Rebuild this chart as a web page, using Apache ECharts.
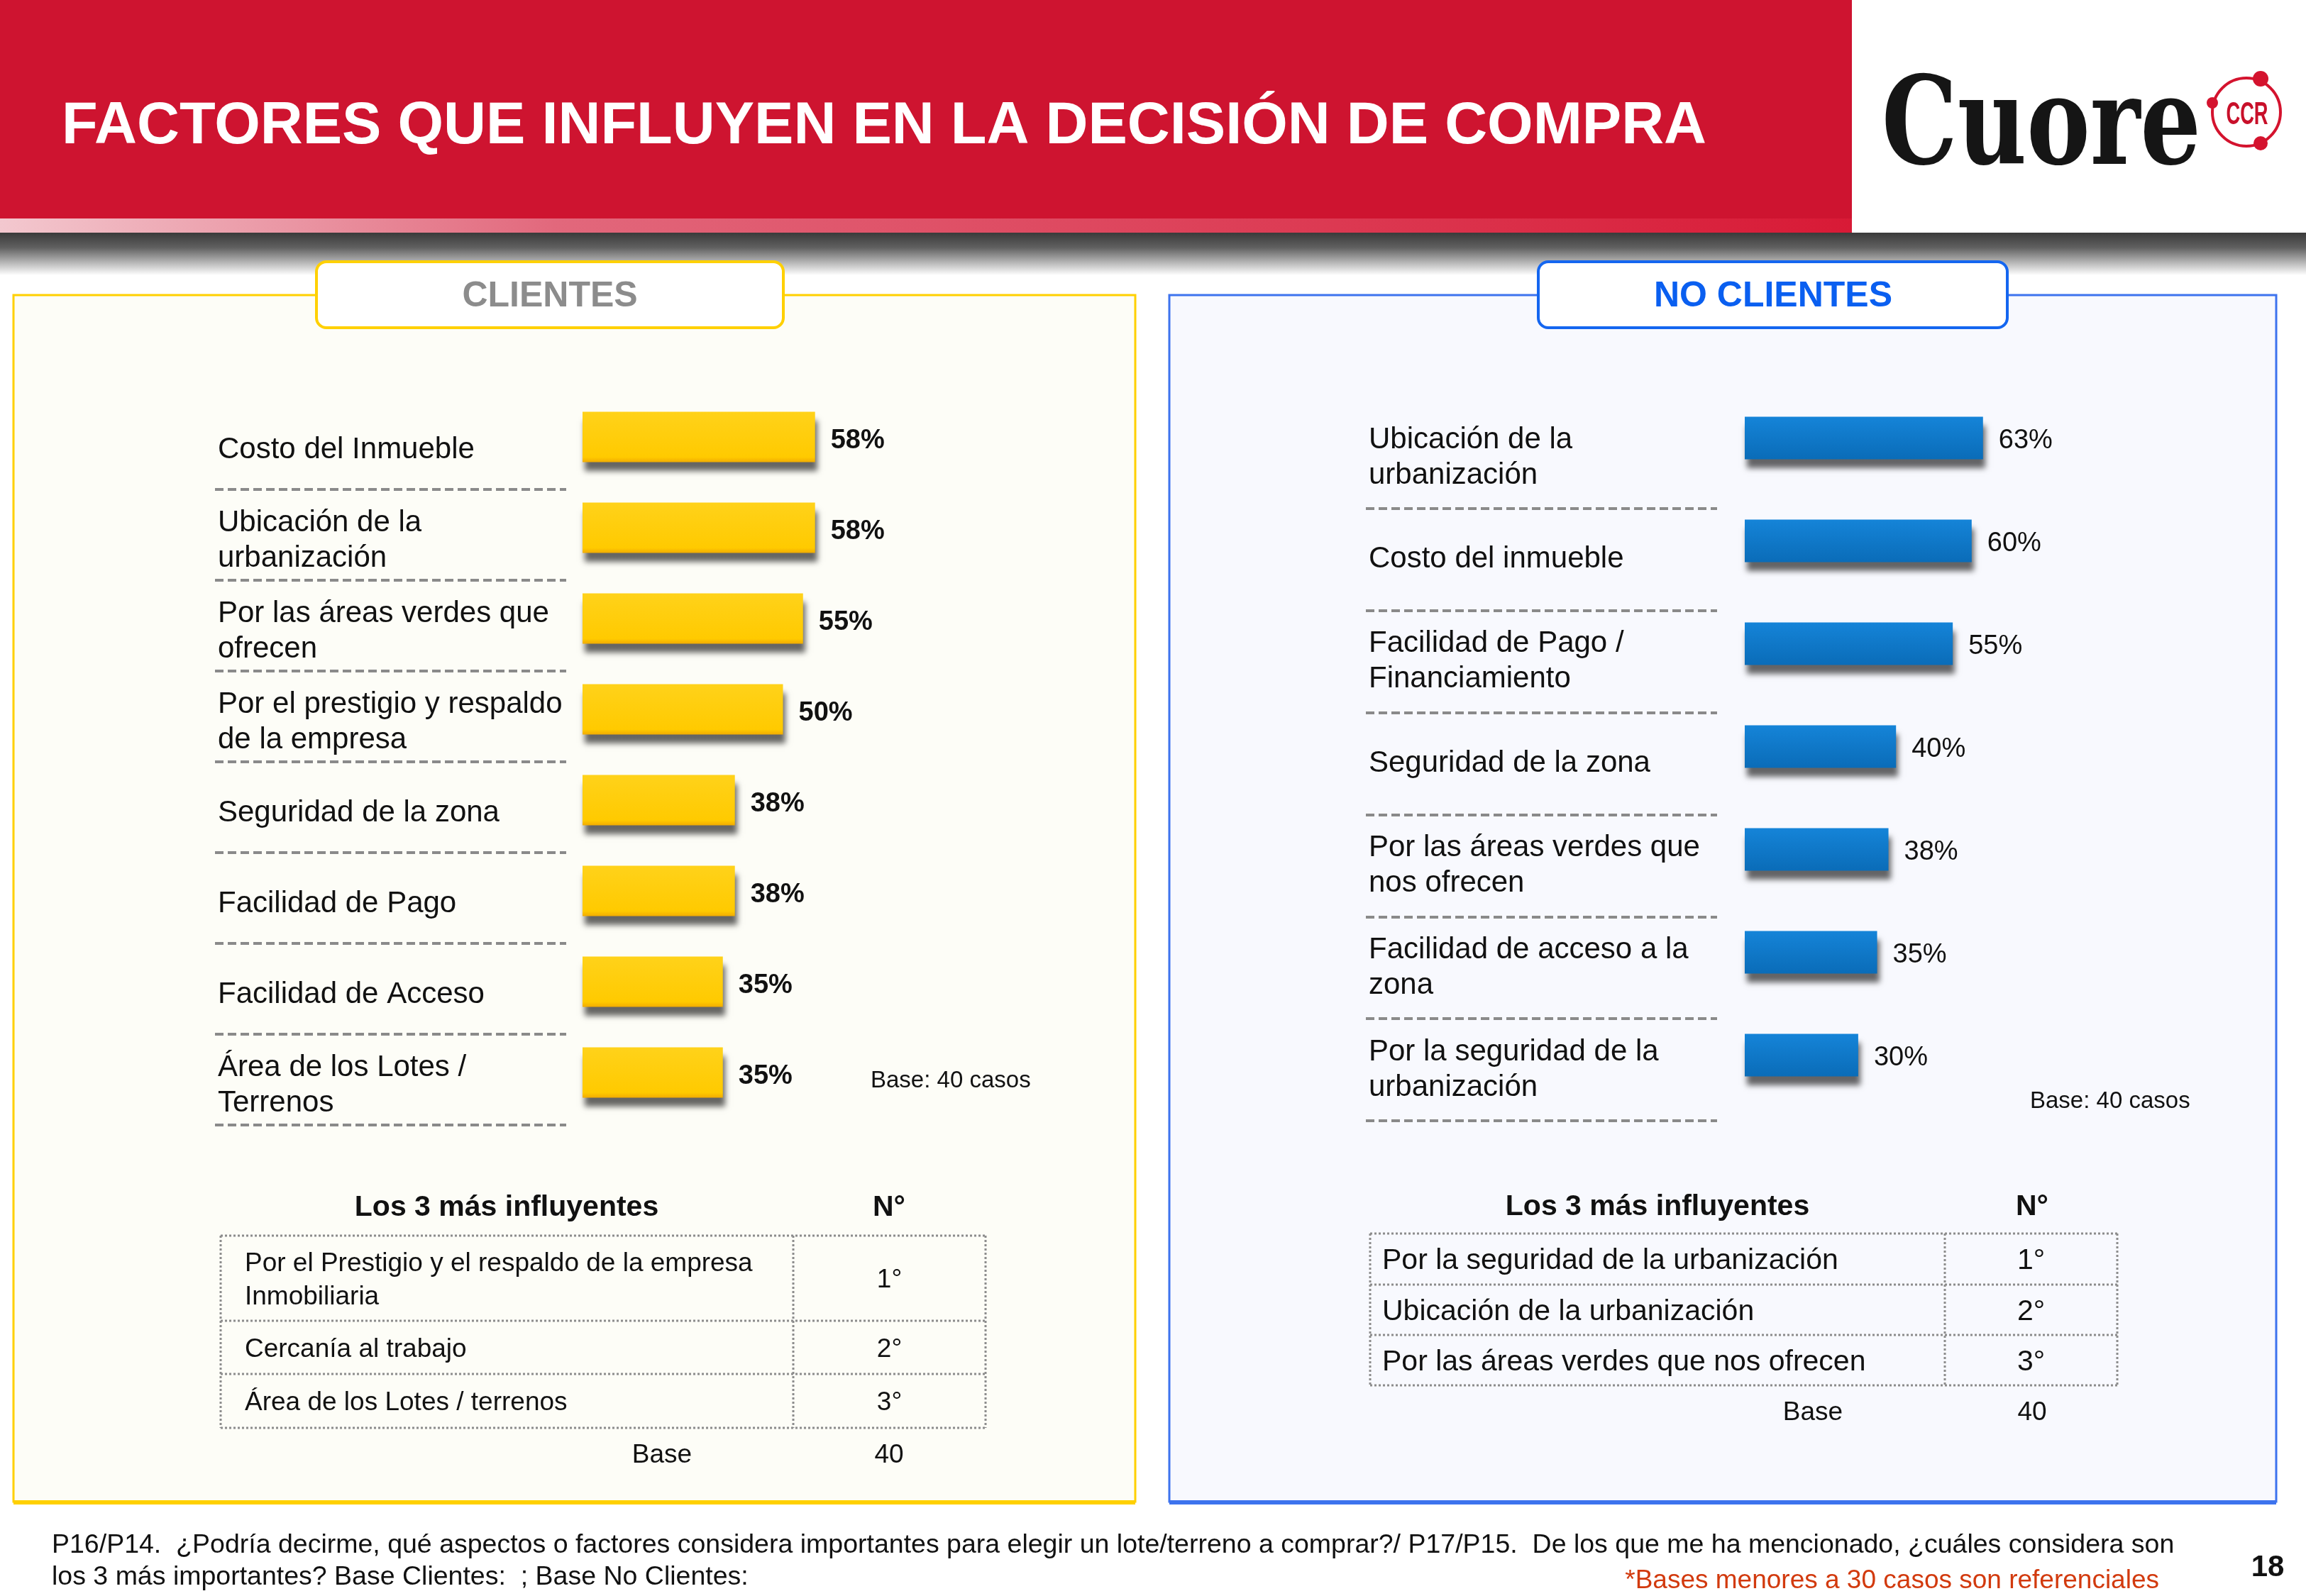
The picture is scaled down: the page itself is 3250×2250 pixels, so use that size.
<!DOCTYPE html>
<html>
<head>
<meta charset="utf-8">
<script src="https://cdn.jsdelivr.net/npm/echarts@6/dist/echarts.min.js"></script>
<style>
  html, body { margin: 0; padding: 0; background: #ffffff; }
  #chart { width: 3250px; height: 2250px; }
</style>
</head>
<body>
<div id="chart"></div>
<script>
// datos - clientes
const clientesCats = [
	'Costo del Inmueble',
	'Ubicación de la\nurbanización',
	'Por las áreas verdes que\nofrecen',
	'Por el prestigio y respaldo\nde la empresa',
	'Seguridad de la zona',
	'Facilidad de Pago',
	'Facilidad de Acceso',
	'Área de los Lotes /\nTerrenos',
];
const clientesVals = [58, 58, 55, 50, 38, 38, 35, 35];

// datos - no clientes
const noClientesCats = [
	'Ubicación de la\nurbanización',
	'Costo del inmueble',
	'Facilidad de Pago /\nFinanciamiento',
	'Seguridad de la zona',
	'Por las áreas verdes que\nnos ofrecen',
	'Facilidad de acceso a la\nzona',
	'Por la seguridad de la\nurbanización',
];
const noClientesVals = [63, 60, 55, 40, 38, 35, 30];

// top 3
const top3Clientes = ['Por el Prestigio y el respaldo de la empresa\nInmobiliaria', 'Cercanía al trabajo', 'Área de los Lotes / terrenos'];
const top3NoClientes = ['Por la seguridad de la urbanización', 'Ubicación de la urbanización', 'Por las áreas verdes que nos ofrecen'];
const ranks = ['1°', '2°', '3°'];
const baseClientes = 40;
const baseNoClientes = 40;

const FONT = '"Liberation Sans", Arial, Helvetica, sans-serif';

let myChart = echarts.init(document.getElementById('chart'), null, { renderer: 'canvas' });

const txt = (x, y, text, size, opts = {}) => ({
	type: 'text',
	x: x,
	y: y,
	z: opts.z || 20,
	style: {
		text: text,
		fontSize: size,
		fontFamily: opts.family || FONT,
		fontWeight: opts.weight || 'normal',
		fill: opts.color || '#111',
		align: opts.align || 'left',
		verticalAlign: opts.valign || 'middle',
		lineHeight: opts.lineHeight,
		textShadowColor: opts.shadowColor,
		textShadowOffsetX: opts.shadowX,
		textShadowOffsetY: opts.shadowY,
	},
	scaleX: opts.scaleX || 1,
});

const dotted = (x1, y1, x2, y2) => ({
	type: 'line',
	z: 15,
	shape: { x1: x1, y1: y1, x2: x2, y2: y2 },
	style: { stroke: '#8c8c8c', lineWidth: 3, lineDash: [3, 3] },
});

// tabla de top 3
const tabla = (items, box, textX, size, titleSize, title) => {
	let els = [];
	const [left, mid, right] = box.x;
	const ys = box.y;
	els.push(txt(title.x, title.y, 'Los 3 más influyentes', titleSize, { weight: 'bold', align: 'center' }));
	els.push(txt(title.nx, title.y, 'N°', titleSize, { weight: 'bold', align: 'center' }));
	for (let i = 0; i < ys.length; i++) {
		els.push(dotted(left, ys[i], right, ys[i]));
	}
	els.push(dotted(left, ys[0], left, ys[ys.length - 1]));
	els.push(dotted(mid, ys[0], mid, ys[ys.length - 1]));
	els.push(dotted(right, ys[0], right, ys[ys.length - 1]));
	items.forEach((t, i) => {
		const cy = (ys[i] + ys[i + 1]) / 2;
		els.push(txt(textX, cy + 3, t, size, { lineHeight: size * 1.28 }));
		els.push(txt((mid + right) / 2, cy + 3, ranks[i], size, { align: 'center' }));
	});
	return els;
};

let graphics = [
	// cabecera
	{ type: 'rect', z: 1, shape: { x: 0, y: 0, width: 2610, height: 312 }, style: { fill: '#CE1430' } },
	{
		type: 'rect', z: 1, shape: { x: 0, y: 308, width: 2610, height: 22 },
		style: {
			fill: new echarts.graphic.LinearGradient(0, 0, 1, 0, [
				{ offset: 0, color: '#f3c8cf' },
				{ offset: 0.3, color: '#e2687c' },
				{ offset: 1, color: '#d81a36' },
			]),
		},
	},
	{
		type: 'rect', z: 1, shape: { x: 0, y: 328, width: 3250, height: 60 },
		style: {
			fill: new echarts.graphic.LinearGradient(0, 0, 0, 1, [
				{ offset: 0, color: '#3a3a3a' },
				{ offset: 0.35, color: '#606060' },
				{ offset: 1, color: '#ffffff' },
			]),
		},
	},
	txt(87, 179, 'FACTORES QUE INFLUYEN EN LA DECISIÓN DE COMPRA', 83, {
		weight: 'bold', color: '#ffffff', shadowColor: '#8f8f8f', shadowX: 3, shadowY: 6,
	}),
	// logo
	{
		type: 'text', x: 2652, y: 186, z: 20, scaleX: 0.78,
		style: { text: 'Cuore', fontSize: 172, fontFamily: '"DejaVu Serif", "Liberation Serif", serif', fontWeight: 'bold', fill: '#151515', verticalAlign: 'middle' },
	},
	{ type: 'circle', z: 20, shape: { cx: 3166, cy: 158, r: 48 }, style: { fill: '#fff', stroke: '#d4132e', lineWidth: 4 } },
	{ type: 'circle', z: 21, shape: { cx: 3186, cy: 111, r: 11 }, style: { fill: '#d4132e' } },
	{ type: 'circle', z: 21, shape: { cx: 3118, cy: 145, r: 8 }, style: { fill: '#d4132e' } },
	{ type: 'circle', z: 21, shape: { cx: 3186, cy: 202, r: 10 }, style: { fill: '#d4132e' } },
	txt(3167, 163, 'CCR', 44, { weight: 'bold', color: '#c8102a', align: 'center', scaleX: 0.62 }),

	// paneles
	{ type: 'rect', z: 0, shape: { x: 19, y: 416, width: 1581, height: 1701 }, style: { fill: '#FDFDF7', stroke: '#FFD000', lineWidth: 3 } },
	{ type: 'line', z: 0, shape: { x1: 19, y1: 2118, x2: 1600, y2: 2118 }, style: { stroke: '#FFD000', lineWidth: 6 } },
	{ type: 'rect', z: 0, shape: { x: 1648, y: 416, width: 1560, height: 1701 }, style: { fill: '#F8F9FE', stroke: '#3D73EE', lineWidth: 3 } },
	{ type: 'line', z: 0, shape: { x1: 1648, y1: 2118, x2: 3208, y2: 2118 }, style: { stroke: '#3D73EE', lineWidth: 6 } },

	// pestañas
	{ type: 'rect', z: 10, shape: { x: 446, y: 369, width: 658, height: 93, r: 14 }, style: { fill: '#ffffff', stroke: '#FFD000', lineWidth: 4 } },
	txt(775, 418, 'CLIENTES', 50, { weight: 'bold', color: '#8c8c8c', align: 'center' }),
	{ type: 'rect', z: 10, shape: { x: 2168, y: 369, width: 661, height: 93, r: 14 }, style: { fill: '#ffffff', stroke: '#1466F0', lineWidth: 4 } },
	txt(2499, 418, 'NO CLIENTES', 50, { weight: 'bold', color: '#0A5FF0', align: 'center' }),

	txt(1227, 1524, 'Base: ' + baseClientes + ' casos', 33),
	txt(2861, 1553, 'Base: ' + baseNoClientes + ' casos', 33),

	// pie
	txt(73, 2179, 'P16/P14.  ¿Podría decirme, qué aspectos o factores considera importantes para elegir un lote/terreno a comprar?/ P17/P15.  De los que me ha mencionado, ¿cuáles considera son', 37.5),
	txt(73, 2224, 'los 3 más importantes? Base Clientes:  ; Base No Clientes:', 37.5),
	txt(3043, 2229, '*Bases menores a 30 casos son referenciales', 37, { color: '#D23A0E', align: 'right' }),
	txt(3196, 2210, '18', 42, { weight: 'bold', align: 'center' }),
];

graphics = graphics.concat(
	tabla(top3Clientes, { x: [311, 1118, 1389], y: [1742, 1862, 1937, 2013] }, 345, 37, 41, { x: 714, nx: 1253, y: 1703 }),
	[txt(933, 2052, 'Base', 37, { align: 'center' }), txt(1253, 2052, String(baseClientes), 37, { align: 'center' })],
	tabla(top3NoClientes, { x: [1931, 2741, 2984], y: [1739, 1811, 1882, 1953] }, 1948, 41, 41, { x: 2336, nx: 2864, y: 1702 }),
	[txt(2555, 1992, 'Base', 37, { align: 'center' }), txt(2864, 1992, String(baseNoClientes), 37, { align: 'center' })]
);

// eje de etiquetas (sin lineas) y eje de separadores punteados (sin etiquetas)
const labelAxis = (cats, withLabels, withLines) => ({
	type: 'category',
	inverse: true,
	data: cats,
	axisLine: { show: false },
	axisTick: { show: false },
	axisLabel: {
		show: withLabels,
		inside: true,
		interval: 0,
		margin: 4,
		fontSize: 42,
		lineHeight: 50,
		color: '#111',
		fontFamily: FONT,
		align: 'left',
	},
	splitLine: {
		show: withLines,
		showMinLine: false,
		showMaxLine: true,
		lineStyle: { color: '#8a8a8a', width: 4, type: [12, 6] },
	},
});

const barAxis = (cats) => ({
	type: 'category',
	inverse: true,
	data: cats,
	axisLine: { show: false },
	axisTick: { show: false },
	axisLabel: { show: false },
	splitLine: { show: false },
});

const valueAxis = () => ({
	type: 'value',
	min: 0,
	max: 100,
	show: false,
	splitLine: { show: false },
});

const barSerie = (vals, axisIdx, width, color, labelWeight, dy) => ({
	type: 'bar',
	xAxisIndex: axisIdx,
	yAxisIndex: axisIdx,
	data: vals,
	barWidth: width,
	silent: true,
	z: 5,
	itemStyle: {
		color: color,
		shadowColor: 'rgba(0,0,0,0.6)',
		shadowBlur: 8,
		shadowOffsetX: 3,
		shadowOffsetY: 12,
	},
	label: {
		show: true,
		position: 'right',
		distance: 22,
		offset: [0, dy],
		formatter: '{c}%',
		fontSize: 38,
		fontWeight: labelWeight,
		fontFamily: FONT,
		color: '#111',
	},
});

let option = {
	backgroundColor: '#ffffff',
	animation: false,
	graphic: { elements: graphics },
	grid: [
		{ left: 303, top: 570, width: 495, height: 1024 },
		{ left: 821, top: 552, width: 565, height: 1024 },
		{ left: 1925, top: 573, width: 495, height: 1007 },
		{ left: 2459, top: 545, width: 533, height: 1015 },
		{ left: 303, top: 562, width: 495, height: 1024 },
	],
	xAxis: [
		{ ...valueAxis(), gridIndex: 0 },
		{ ...valueAxis(), gridIndex: 1 },
		{ ...valueAxis(), gridIndex: 2 },
		{ ...valueAxis(), gridIndex: 3 },
		{ ...valueAxis(), gridIndex: 4 },
	],
	yAxis: [
		{ ...labelAxis(clientesCats, true, false), gridIndex: 0 },
		{ ...barAxis(clientesCats), gridIndex: 1 },
		{ ...labelAxis(noClientesCats, true, true), gridIndex: 2 },
		{ ...barAxis(noClientesCats), gridIndex: 3 },
		{ ...labelAxis(clientesCats, false, true), gridIndex: 4 },
	],
	series: [
		barSerie(
			clientesVals, 1, 71,
			new echarts.graphic.LinearGradient(0, 0, 0, 1, [
				{ offset: 0, color: '#FFD21A' },
				{ offset: 0.9, color: '#FFCA00' },
				{ offset: 1, color: '#F2AC00' },
			]),
			'bold', 6
		),
		barSerie(
			noClientesVals, 3, 60,
			new echarts.graphic.LinearGradient(0, 0, 0, 1, [
				{ offset: 0, color: '#1584D8' },
				{ offset: 1, color: '#0A6CB8' },
			]),
			'normal', 4
		),
	],
};

myChart.setOption(option);
window.addEventListener('resize', () => {
	myChart.resize();
});
</script>
</body>
</html>
